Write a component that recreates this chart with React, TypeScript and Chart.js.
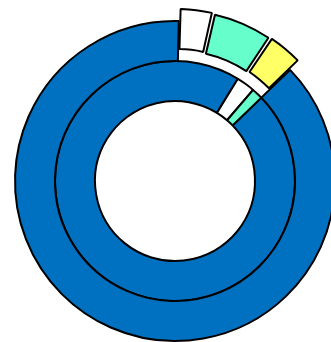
import React, { useEffect, useRef } from "react";
import { Chart, registerables } from "chart.js";

Chart.register(...registerables);

// Segment names, shared by both rings
const outerLabels = ["Blue", "White", "Aqua", "Yellow"];
const innerLabels = ["Blue", "White", "Aqua"];

// Outer ring shares (percent)
const outerValues = [87.6, 3.2, 5.8, 3.4];
// Inner ring shares (percent)
const innerValues = [96.0, 2.5, 1.5];

const outerColors = ["#0070C0", "#FFFFFF", "#66FFCC", "#FFFF66"];
const innerColors = ["#0070C0", "#FFFFFF", "#66FFCC"];

// Pulled-out slices on the outer ring
const outerOffsets = [0, 27, 27, 27];

export default function App() {
  const canvasRef = useRef<HTMLCanvasElement | null>(null);

  useEffect(() => {
    const canvas = canvasRef.current;
    if (!canvas) return;
    const chart = new Chart(canvas, {
      type: "doughnut",
      data: {
        labels: outerLabels,
        datasets: [
          {
            label: "Outer",
            data: outerValues,
            backgroundColor: outerColors,
            borderColor: "#000000",
            borderWidth: 2,
            offset: outerOffsets,
            hoverOffset: 0,
          },
          {
            label: "Inner",
            data: innerValues,
            backgroundColor: innerColors,
            borderColor: "#000000",
            borderWidth: 2,
            offset: 0,
            hoverOffset: 0,
          },
        ],
      },
      options: {
        responsive: false,
        animation: false,
        rotation: 46,
        radius: 160,
        cutout: "50%",
        layout: { padding: 0 },
        plugins: {
          legend: { display: false },
          tooltip: { enabled: false },
        },
      },
    } as any);
    return () => chart.destroy();
  }, []);

  return (
    <div
      style={{
        position: "fixed",
        left: 0,
        top: 0,
        width: 331,
        height: 342,
        overflow: "hidden",
        background: "#FFFFFF",
      }}
    >
      <canvas
        ref={canvasRef}
        width={334}
        height={346}
        style={{ position: "absolute", left: 8, top: 8, width: 334, height: 346 }}
      />
    </div>
  );
}
